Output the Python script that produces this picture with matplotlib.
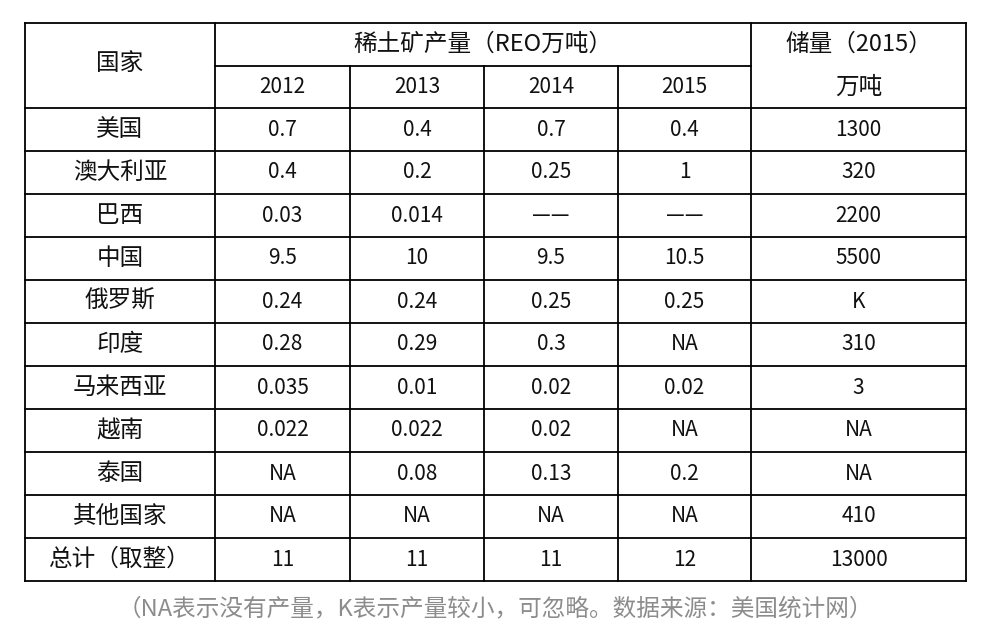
import matplotlib
matplotlib.use("Agg")
import matplotlib.pyplot as plt

countries = ["美国","澳大利亚","巴西","中国","俄罗斯","印度","马来西亚","越南","泰国","其他国家","总计（取整）"]
years = ["2012","2013","2014","2015"]
prod2012 = ["0.7","0.4","0.03","9.5","0.24","0.28","0.035","0.022","NA","NA","11"]
prod2013 = ["0.4","0.2","0.014","10","0.24","0.29","0.01","0.022","0.08","NA","11"]
prod2014 = ["0.7","0.25","——","9.5","0.25","0.3","0.02","0.02","0.13","NA","11"]
prod2015 = ["0.4","1","——","10.5","0.25","NA","0.02","NA","0.2","NA","12"]
reserve = ["1300","320","2200","5500","K","310","3","NA","NA","410","13000"]
caption = "（NA表示没有产量，K表示产量较小，可忽略。数据来源：美国统计网）"

fam = ["Noto Sans CJK SC", "DejaVu Sans"]
fig = plt.figure(figsize=(9.9, 6.38), dpi=100)
ax = fig.add_axes([0, 0, 1, 1])
ax.set_xlim(0, 990); ax.set_ylim(638, 0); ax.axis("off")

xs = [25, 215, 350, 484, 618, 751, 966]
y0, yh, rh = 23, 66, 43
ys = [y0, yh, 108] + [108 + rh*(i+1) for i in range(len(countries))]
yb = ys[-1]
lw = 1.3
for x in [xs[0], xs[-1]]:
    ax.plot([x, x], [y0, yb], color="k", lw=lw)
for x in xs[1:5]:
    ax.plot([x, x], [yh if x != xs[1] else y0, yb], color="k", lw=lw)
ax.plot([xs[5], xs[5]], [y0, yb], color="k", lw=lw)
ax.plot([xs[0], xs[-1]], [y0, y0], color="k", lw=lw)
ax.plot([xs[1], xs[5]], [yh, yh], color="k", lw=lw)
for y in ys[2:]:
    ax.plot([xs[0], xs[-1]], [y, y], color="k", lw=lw)

def t(x, y, s, size=15):
    ax.text(x, y, s, ha="center", va="center", fontsize=size, family=fam, color="#111")

t((xs[0]+xs[1])/2, (y0+108)/2 - 2, "国家", 17)
t((xs[1]+xs[5])/2, (y0+yh)/2, "稀土矿产量（REO万吨）", 17)
t((xs[5]+xs[6])/2, (y0+yh)/2, "储量（2015）", 17)
t((xs[5]+xs[6])/2, (yh+108)/2, "万吨", 17)
for j, yr in enumerate(years):
    t((xs[j+1]+xs[j+2])/2, (yh+108)/2, yr)
cols = [prod2012, prod2013, prod2014, prod2015, reserve]
for i, name in enumerate(countries):
    yc = (ys[i+2] + ys[i+3]) / 2
    t((xs[0]+xs[1])/2, yc, name, 17)
    for j, col in enumerate(cols):
        t((xs[j+1]+xs[j+2])/2, yc, col[i])
ax.text(495, 609, caption, ha="center", va="center", fontsize=17, family=fam, color="#8c8c8c")
fig.savefig("out.png", dpi=100)
